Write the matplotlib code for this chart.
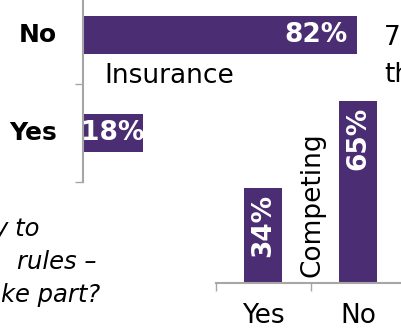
import matplotlib
matplotlib.use("Agg")
import matplotlib.pyplot as plt

# ---- data ----
ins_categories = ["Yes", "No"]
ins_values = [0.18, 0.82]
comp_categories = ["Yes", "No"]
comp_values = [0.34, 0.65]
title_ins = "Insurance"
title_comp = "Competing"
question_lines = ["y to", "rules \u2013", "ke part?"]
side_lines = ["7", "th"]

PURPLE = "#4B2D73"
GRAY = "#A6A6A6"
W, H = 402, 331
plt.rcParams['font.family'] = ['DejaVu Sans']

fig = plt.figure(figsize=(W / 100, H / 100), dpi=100)


def fx(x):
    return x / W


def fy(y):
    return 1 - y / H


def pt(px):
    return px * 0.72


# ---- horizontal bar chart (Insurance) ----
ax1 = fig.add_axes([fx(83), (H - 182) / H, 334 / W, 196 / H])
ax1.patch.set_visible(False)
ypos = list(range(len(ins_categories)))
ax1.barh(ypos, ins_values, height=0.39, color=PURPLE)
ax1.set_xlim(0, 1)
ax1.set_ylim(-0.5, len(ins_categories) - 0.5)
for s in ["top", "right", "bottom"]:
    ax1.spines[s].set_visible(False)
ax1.spines["left"].set_color(GRAY)
ax1.spines["left"].set_linewidth(1.5)
ax1.set_xticks([])
ax1.set_yticks([i - 0.5 for i in range(len(ins_categories) + 1)])
ax1.set_yticklabels([])
ax1.tick_params(axis="y", length=pt(8), width=1.0, color=GRAY, direction="out")
for i, (c, v) in enumerate(zip(ins_categories, ins_values)):
    ax1.annotate(c, xy=(0, i), xycoords=("axes fraction", "data"),
                 xytext=(-pt(26), 0), textcoords="offset points",
                 ha="right", va="center", fontsize=18, fontweight="bold")
    lab = f"{round(v * 100)}%"
    if v < 0.3:
        ax1.annotate(lab, xy=(v / 2, i), ha="center", va="center",
                     color="white", fontsize=19, fontweight="bold")
    else:
        ax1.annotate(lab, xy=(v, i), xytext=(-pt(9), 0), textcoords="offset points",
                     ha="right", va="center", color="white", fontsize=19,
                     fontweight="bold")

# ---- vertical bar chart (Competing) ----
ax2 = fig.add_axes([fx(216), 48 / H, 190 / W, 280.6 / H])
ax2.patch.set_visible(False)
xpos = list(range(len(comp_categories)))
ax2.bar(xpos, comp_values, width=0.4, color=PURPLE)
ax2.set_xlim(-0.5, len(comp_categories) - 0.5)
ax2.set_ylim(0, 1)
for s in ["top", "right", "left"]:
    ax2.spines[s].set_visible(False)
ax2.spines["bottom"].set_color(GRAY)
ax2.spines["bottom"].set_linewidth(1.5)
ax2.set_yticks([])
ax2.set_xticks([i - 0.5 for i in range(len(comp_categories) + 1)])
ax2.set_xticklabels([])
ax2.tick_params(axis="x", which="major", length=pt(8), width=1.0, color=GRAY,
                direction="out")
ax2.set_xticks(xpos, comp_categories, minor=True)
ax2.tick_params(axis="x", which="minor", length=0, pad=pt(20), labelsize=19)
for i, v in enumerate(comp_values):
    ax2.annotate(f"{round(v * 100)}%", xy=(i, v), xytext=(0, -pt(6)),
                 textcoords="offset points", rotation=90, ha="center", va="top",
                 color="white", fontsize=19, fontweight="bold")

# ---- free text ----
fig.text(fx(104), fy(83), title_ins, fontsize=19, va="baseline", ha="left")
fig.text(fx(313), fy(277), title_comp, fontsize=19, rotation=90,
         ha="center", va="bottom")
q_right = [40, 97, 100]
q_base = [236, 269, 302]
for t, xr, yb in zip(question_lines, q_right, q_base):
    fig.text(fx(xr), fy(yb), t, fontsize=17.5, style="italic",
             ha="right", va="baseline")
for t, yb in zip(side_lines, [45, 82]):
    fig.text(fx(384), fy(yb), t, fontsize=19, ha="left", va="baseline")

fig.savefig("out.png", dpi=100)
